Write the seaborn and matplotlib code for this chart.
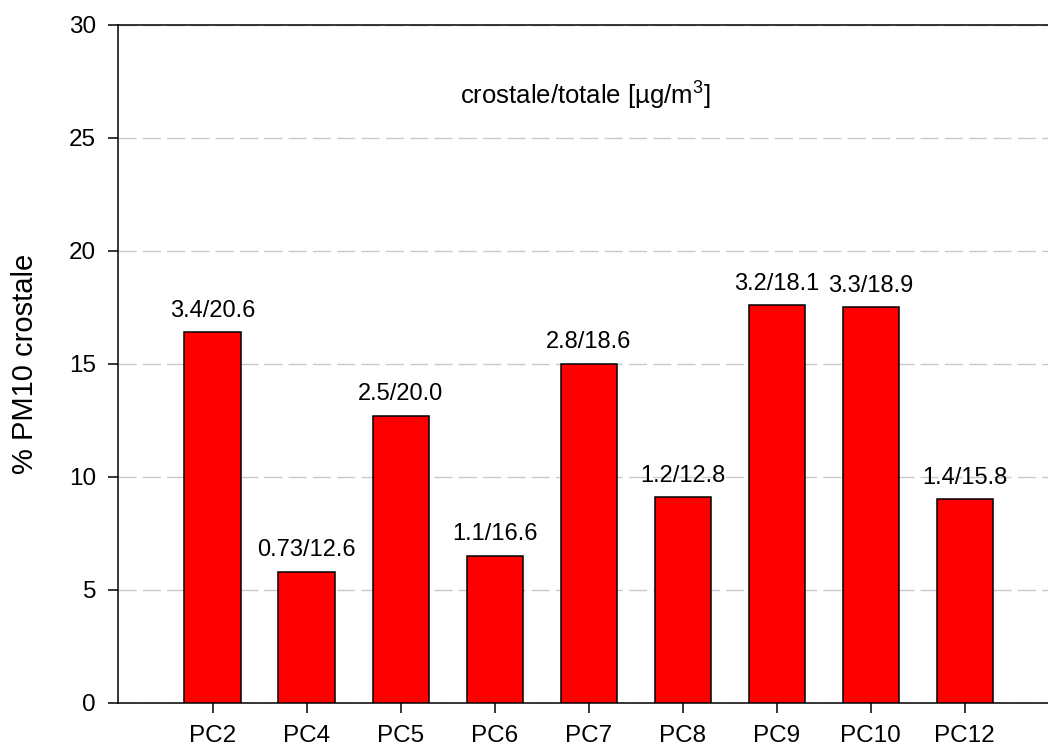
import pandas as pd
import numpy as np
import matplotlib
matplotlib.use('Agg')
import matplotlib.pyplot as plt
import seaborn as sns

# chart data
stations = ['PC2', 'PC4', 'PC5', 'PC6', 'PC7', 'PC8', 'PC9', 'PC10', 'PC12']
pct_crustal = [16.4, 5.8, 12.7, 6.5, 15.0, 9.1, 17.6, 17.5, 9.0]
bar_labels = ['3.4/20.6', '0.73/12.6', '2.5/20.0', '1.1/16.6', '2.8/18.6',
              '1.2/12.8', '3.2/18.1', '3.3/18.9', '1.4/15.8']
y_ticks = [0, 5, 10, 15, 20, 25, 30]

sns.set_style('ticks')
plt.rcParams['font.family'] = ['Liberation Sans', 'DejaVu Sans']
plt.rcParams['mathtext.fontset'] = 'custom'
plt.rcParams['mathtext.rm'] = 'Liberation Sans'
plt.rcParams['mathtext.default'] = 'regular'
plt.rcParams['text.color'] = 'black'

df = pd.DataFrame({'Station': stations, 'Pct': pct_crustal})

fig = plt.figure(figsize=(10.48, 7.51), dpi=100)
ax = fig.add_axes([0.1129, 0.0643, 0.8871, 0.9028])

sns.barplot(data=df, x='Station', y='Pct', color='#ff0000', saturation=1,
            width=0.6, edgecolor='black', linewidth=1.1, ax=ax, zorder=3)

# value labels above each bar
for i, (val, lab) in enumerate(zip(pct_crustal, bar_labels)):
    ax.annotate(lab, xy=(i, val), xytext=(0, 7.5), textcoords='offset points',
                ha='center', va='bottom', fontsize=17, color='black')

ax.text(3.96, 26.85, 'crostale/totale [µg/m$^{3}$]', ha='center', va='center',
        fontsize=18.5, color='black')

ax.set_ylim(0, 30)
ax.set_xlim(-1.004, 8.886)
ax.set_yticks(y_ticks)
ax.set_xlabel('')
ax.set_ylabel('% PM10 crostale', fontsize=21, color='black')
ax.yaxis.set_label_coords(-0.085, 0.5)

ax.yaxis.grid(True, color='#c8c8c8', linewidth=1.0, linestyle=(0, (13, 4.5)), zorder=0)
ax.set_axisbelow(True)

ax.tick_params(axis='both', direction='out', length=7, width=1.1, pad=9,
               labelsize=17.5, color='black', labelcolor='black')
for side in ['left', 'bottom', 'top']:
    ax.spines[side].set_linewidth(1.1)
    ax.spines[side].set_color('black')
    ax.spines[side].set_visible(True)
ax.spines['right'].set_visible(False)

fig.savefig('out.png', dpi=100)
